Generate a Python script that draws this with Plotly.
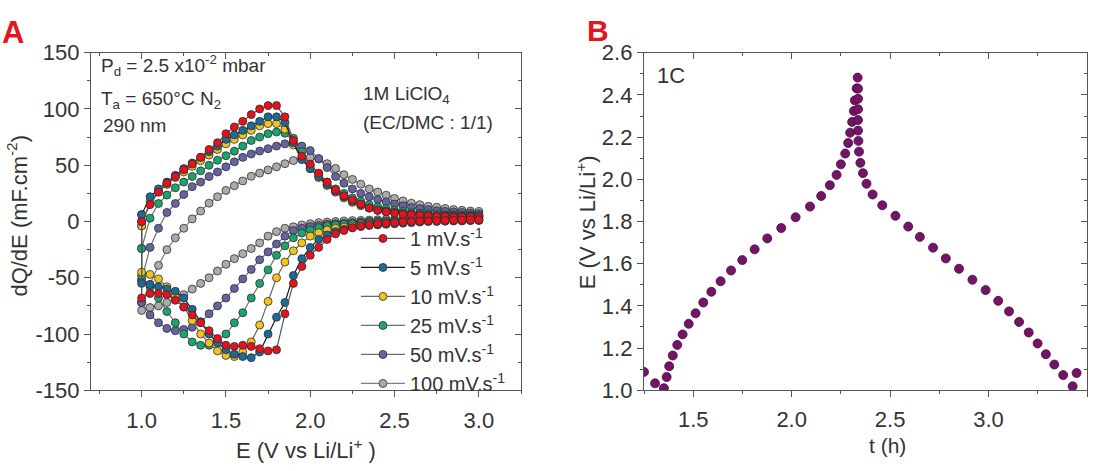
import plotly.graph_objects as go

# ---------------- Panel A data (CV, dQ/dE vs E) ----------------
E_grid = [1.00, 1.05, 1.10, 1.15, 1.20, 1.25, 1.30, 1.35, 1.40, 1.45,
          1.50, 1.55, 1.60, 1.65, 1.70, 1.75, 1.80, 1.85, 1.90, 1.95,
          2.00, 2.05, 2.10, 2.15, 2.20, 2.25, 2.30, 2.35, 2.40, 2.45,
          2.50, 2.55, 2.60, 2.65, 2.70, 2.75, 2.80, 2.85, 2.90, 2.95, 3.00]

red_up = [0, 15, 26, 34, 40, 46, 51, 57, 64, 70, 78, 84, 89, 95, 100, 103, 103, 93, 72, 58,
          51, 43, 35, 28, 23, 19, 15.5, 12, 10, 8.5, 7.5, 6.5, 6, 5.5, 5, 4.5, 4.5, 4, 4, 4, 3.5]
red_dn = [-68, -64, -64, -65, -70, -76, -83, -90, -97, -104, -110, -111, -110, -111, -113, -115, -114, -82, -55, -40,
          -30, -23, -16, -11, -8, -5.5, -4, -3, -2, -1.5, -1, -0.5, 0, 0.3, 0.5, 0.8, 1, 1.2, 1.3, 1.4, 1.5]

blue_up = [6, 22, 29, 35, 41, 47, 52, 57, 62, 67, 73, 77, 81, 85, 89, 93, 93, 88, 70, 55,
           47, 40, 33, 27, 22, 18, 15, 12, 10, 9, 8, 7, 6.5, 6, 5.5, 5, 5, 5, 5, 5, 5]
blue_dn = [-55, -56, -58, -60, -62, -68, -78, -89, -100, -108, -114, -118, -120, -121, -116, -100, -85, -72, -48, -33,
           -23, -16, -12, -9, -7, -5.5, -4.5, -3.5, -3, -2.5, -2, -1.5, -1, -0.5, 0, 0, 0.3, 0.5, 0.5, 0.8, 1]

yellow_up = [-4, 18, 27, 33, 39, 44, 49, 54, 59, 64, 69, 73, 77, 81, 85, 87, 87, 82, 68, 56,
             47, 39, 32, 26, 21, 17, 14, 12, 10, 9, 8, 7, 6, 6, 5.5, 5, 5, 5, 5, 5, 5]
yellow_dn = [-45, -47, -51, -58, -66, -76, -88, -100, -108, -115, -119, -120, -116, -107, -92, -71, -50, -36, -26, -19,
             -13, -10, -7.5, -6, -5, -4, -3, -2.5, -2, -1.5, -1, -0.5, 0, 0, 0.3, 0.5, 0.5, 0.8, 1, 1, 1]

green_up = [-24, 3, 16, 23.5, 30, 35, 40, 45, 50, 54.5, 58.5, 62.5, 67, 72, 75, 78, 79.5, 78.5, 74, 62,
            50, 42, 35, 29, 25, 21, 18, 15, 13, 11.5, 10, 9, 8, 7.5, 7, 6.5, 6, 6, 5.5, 5.5, 5]
green_dn = [-48, -58, -68, -80, -90, -100, -107, -110, -110, -106, -100, -90, -81, -68, -55, -43, -30, -21.6, -14.5, -10.3,
            -7.5, -5.5, -4, -3, -2.5, -2, -1.5, -1, -0.5, 0, 0.3, 0.5, 0.7, 0.9, 1, 1.2, 1.3, 1.4, 1.5, 1.5, 1.5]

purple_up = [-52, -23, -6, 8, 16, 24, 31, 35, 40, 44, 48.6, 53, 57, 60, 62.6, 64.7, 67, 69, 69.5, 67,
             63, 56, 48, 40, 34, 29, 25, 22, 19.5, 17.5, 15.5, 14, 12.5, 11.5, 10.5, 9.5, 9, 8.5, 8, 7.5, 7]
purple_dn = [-72, -83, -90, -95, -97, -96, -94, -89.5, -82, -75, -68, -59.5, -51, -42.6, -34, -27, -20, -13, -8, -6,
             -4.5, -3.5, -2.5, -2, -1.5, -1, -0.5, 0, 0.3, 0.5, 0.8, 1, 1.2, 1.4, 1.6, 1.8, 2, 2, 2.2, 2.3, 2.5]

grey_up = [-72, -56, -39, -25, -14.5, -6, 2.3, 9.3, 16.3, 22, 27.6, 31.8, 36, 40.2, 43, 45.8, 48.6, 51.4, 54.2, 55.6,
           57, 55.6, 51.4, 47.2, 41.6, 37.4, 33.2, 29, 26.2, 23.4, 20.5, 18.3, 16.3, 15, 13.5, 12.7, 11.6, 10.7, 9.9, 9.3, 9]
grey_dn = [-79, -76.5, -75, -72, -69, -65, -60, -55, -50, -44, -38, -33, -28.6, -24, -19, -13, -9, -6, -4.7, -3,
           -2, -1, -0.5, 0, 0.5, 0.8, 1, 1.3, 1.6, 2, 2.3, 2.6, 2.9, 3.1, 3.3, 3.5, 3.6, 3.7, 3.8, 3.9, 4]

rate_labels = ["1 mV.s<sup>-1</sup>", "5 mV.s<sup>-1</sup>", "10 mV.s<sup>-1</sup>",
               "25 mV.s<sup>-1</sup>", "50 mV.s<sup>-1</sup>", "100 mV.s<sup>-1</sup>"]

A_yticks = [-150, -100, -50, 0, 50, 100, 150]
A_yticktext = ["-150", "-100", "-50", "0", "50", "100", "150"]

# ---------------- Panel B data (galvanostatic, E vs t) ----------------
t_h = [1.250, 1.306, 1.351, 1.365, 1.378, 1.396, 1.419, 1.446, 1.477, 1.512,
       1.551, 1.592, 1.639, 1.692, 1.749, 1.812, 1.876, 1.947, 2.020, 2.093,
       2.150, 2.194, 2.228, 2.250, 2.272, 2.287, 2.297, 2.307, 2.316, 2.321,
       2.330, 2.335,
       2.337, 2.337, 2.337, 2.337, 2.337, 2.339, 2.342, 2.349, 2.362, 2.380,
       2.411, 2.460, 2.527, 2.592, 2.651, 2.718, 2.783, 2.850, 2.918, 2.985,
       3.049, 3.104, 3.155, 3.204, 3.249, 3.291, 3.334, 3.379, 3.427, 3.447]
E_gcd = [1.087, 1.033, 1.010, 1.063, 1.114, 1.165, 1.215, 1.265, 1.315, 1.365,
         1.416, 1.467, 1.517, 1.568, 1.617, 1.668, 1.720, 1.769, 1.820, 1.871,
         1.921, 1.972, 2.021, 2.071, 2.122, 2.172, 2.221, 2.272, 2.324, 2.374,
         2.431, 2.482,
         2.430, 2.382, 2.332, 2.281, 2.231, 2.182, 2.131, 2.078, 2.029, 1.979,
         1.928, 1.877, 1.827, 1.776, 1.727, 1.676, 1.625, 1.576, 1.524, 1.475,
         1.424, 1.374, 1.324, 1.274, 1.222, 1.171, 1.122, 1.072, 1.019, 1.082]

# ---------------- styling ----------------
FONT = "Liberation Sans, Arial, sans-serif"
TXT = "#333333"
AX = "#555555"

series = [
    (rate_labels[0], red_up, red_dn, "#e3121c", "#555555"),
    (rate_labels[1], blue_up, blue_dn, "#1c6a98", "#1a1a1a"),
    (rate_labels[2], yellow_up, yellow_dn, "#f1c31c", "#666666"),
    (rate_labels[3], green_up, green_dn, "#1aa56e", "#707070"),
    (rate_labels[4], purple_up, purple_dn, "#6464a2", "#707070"),
    (rate_labels[5], grey_up, grey_dn, "#ababab", "#808080"),
]

fig = go.Figure()
for name, up, dn, col, lcol in reversed(series):
    xs = E_grid + E_grid[::-1] + E_grid[:1]
    ys = up + dn[::-1] + up[:1]
    fig.add_trace(go.Scatter(
        x=xs, y=ys, mode="lines+markers", name=name,
        line=dict(color=lcol, width=1.2),
        marker=dict(size=8, color=col, line=dict(color="#2e2e2e", width=0.8)),
        xaxis="x", yaxis="y"))

fig.add_trace(go.Scatter(
    x=t_h, y=E_gcd, mode="markers", showlegend=False,
    marker=dict(size=9, color="#731467", line=dict(color="#4a0a43", width=0.8)),
    xaxis="x2", yaxis="y2"))

# empty traces to create mirror axes with inward ticks
fig.add_trace(go.Scatter(x=[], y=[], xaxis="x3", yaxis="y3", showlegend=False, hoverinfo="skip"))
fig.add_trace(go.Scatter(x=[], y=[], xaxis="x4", yaxis="y4", showlegend=False, hoverinfo="skip"))

ydom = [0.1518, 0.9087]
xdomA = [0.0826, 0.4728]
xdomB = [0.5844, 0.9864]
xrA = [0.70, 3.25]

tickfont = dict(family=FONT, size=22, color=TXT)
base = dict(showgrid=False, zeroline=False, showline=True, linecolor=AX, linewidth=1.4,
            ticks="outside", ticklen=6, tickwidth=1.3, tickcolor=AX, tickfont=tickfont)

fig.update_layout(
    width=1102, height=471, margin=dict(l=0, r=0, t=0, b=0),
    paper_bgcolor="white", plot_bgcolor="white",
    font=dict(family=FONT, color=TXT),
    xaxis=dict(**base, domain=xdomA, anchor="y", range=xrA, mirror=True,
               tick0=1.0, dtick=0.5, tickformat=".1f", ticklabelstandoff=4,
               minor=dict(tick0=1.0, dtick=0.25, ticks="outside", ticklen=3, tickcolor=AX)),
    yaxis=dict(**base, domain=ydom, anchor="x", range=[-150, 150], mirror=True,
               tickvals=A_yticks, ticktext=A_yticktext,
               minor=dict(tick0=0, dtick=25, ticks="outside", ticklen=3, tickcolor=AX)),
    xaxis3=dict(overlaying="x", side="top", anchor="y", range=xrA, showgrid=False,
                zeroline=False, showticklabels=False, ticks="inside", ticklen=6, tickcolor=AX,
                tick0=1.0, dtick=0.5,
                minor=dict(tick0=1.0, dtick=0.25, ticks="inside", ticklen=3, tickcolor=AX)),
    yaxis3=dict(overlaying="y", side="right", anchor="x", range=[-150, 150], showgrid=False,
                zeroline=False, showticklabels=False, ticks="inside", ticklen=6, tickcolor=AX,
                tick0=0, dtick=50,
                minor=dict(tick0=0, dtick=25, ticks="inside", ticklen=3, tickcolor=AX)),
    xaxis2=dict(**base, domain=xdomB, anchor="y2", range=[1.25, 3.5], mirror=True,
                tick0=1.5, dtick=0.5, tickformat=".1f", ticklabelstandoff=3,
                minor=dict(tick0=1.5, dtick=0.25, ticks="outside", ticklen=3, tickcolor=AX)),
    yaxis2=dict(**base, domain=ydom, anchor="x2", range=[1.0, 2.6], mirror=True,
                tick0=1.0, dtick=0.2, tickformat=".1f",
                minor=dict(tick0=1.0, dtick=0.1, ticks="outside", ticklen=3, tickcolor=AX)),
    xaxis4=dict(overlaying="x2", side="top", anchor="y2", range=[1.25, 3.5], showgrid=False,
                zeroline=False, showticklabels=False, ticks="inside", ticklen=6, tickcolor=AX,
                tick0=1.5, dtick=0.5,
                minor=dict(tick0=1.5, dtick=0.25, ticks="inside", ticklen=3, tickcolor=AX)),
    yaxis4=dict(overlaying="y2", side="right", anchor="x2", range=[1.0, 2.6], showgrid=False,
                zeroline=False, showticklabels=False, ticks="inside", ticklen=6, tickcolor=AX,
                tick0=1.0, dtick=0.2,
                minor=dict(tick0=1.0, dtick=0.1, ticks="inside", ticklen=3, tickcolor=AX)),
    legend=dict(x=0.323, y=0.536, xanchor="left", yanchor="top", traceorder="reversed",
                bgcolor="rgba(0,0,0,0)", font=dict(family=FONT, size=20, color=TXT),
                itemwidth=44, tracegroupgap=0),
    showlegend=True,
)

ann = []
def A(text, x, y, size, xanchor="center", yanchor="middle", angle=0, color=TXT, bold=False):
    ann.append(dict(text=("<b>%s</b>" % text) if bold else text, x=x, y=y, xref="paper", yref="paper",
                    xanchor=xanchor, yanchor=yanchor, showarrow=False, textangle=angle,
                    font=dict(family=FONT, size=size, color=color)))

# panel letters
A("A", 13 / 1102, 1 - 22 / 471, 31, color="#e3161f", bold=True)
A("B", 598 / 1102, 1 - 20 / 471, 30, color="#e3161f", bold=True)
# axis titles
A("dQ/dE (mF.cm<sup>-2</sup>)", 17 / 1102, 1 - 215 / 471, 22, angle=-90)
A("E (V vs Li/Li<sup>+</sup> )", 306 / 1102, 1 - 462 / 471, 22)
A("E (V vs Li/Li<sup>+</sup>)", 586 / 1102, 1 - 222 / 471, 22, angle=-90)
A("t (h)", 887 / 1102, 1 - 458 / 471, 21)
# panel A notes
A("P<sub>d</sub> = 2.5 x10<sup>-2</sup> mbar", 99 / 1102, 1 - 57 / 471, 19, xanchor="left")
A("T<sub>a</sub> = 650°C N<sub>2</sub>", 99 / 1102, 1 - 93 / 471, 19, xanchor="left")
A("290 nm", 101 / 1102, 1 - 120 / 471, 19, xanchor="left")
A("1M LiClO<sub>4</sub>", 361 / 1102, 1 - 88 / 471, 19, xanchor="left")
A("(EC/DMC : 1/1)", 361 / 1102, 1 - 117 / 471, 19, xanchor="left")
# panel B note
A("1C", 655 / 1102, 1 - 67 / 471, 22, xanchor="left")

fig.update_layout(annotations=ann)
fig.write_html("out.html")
